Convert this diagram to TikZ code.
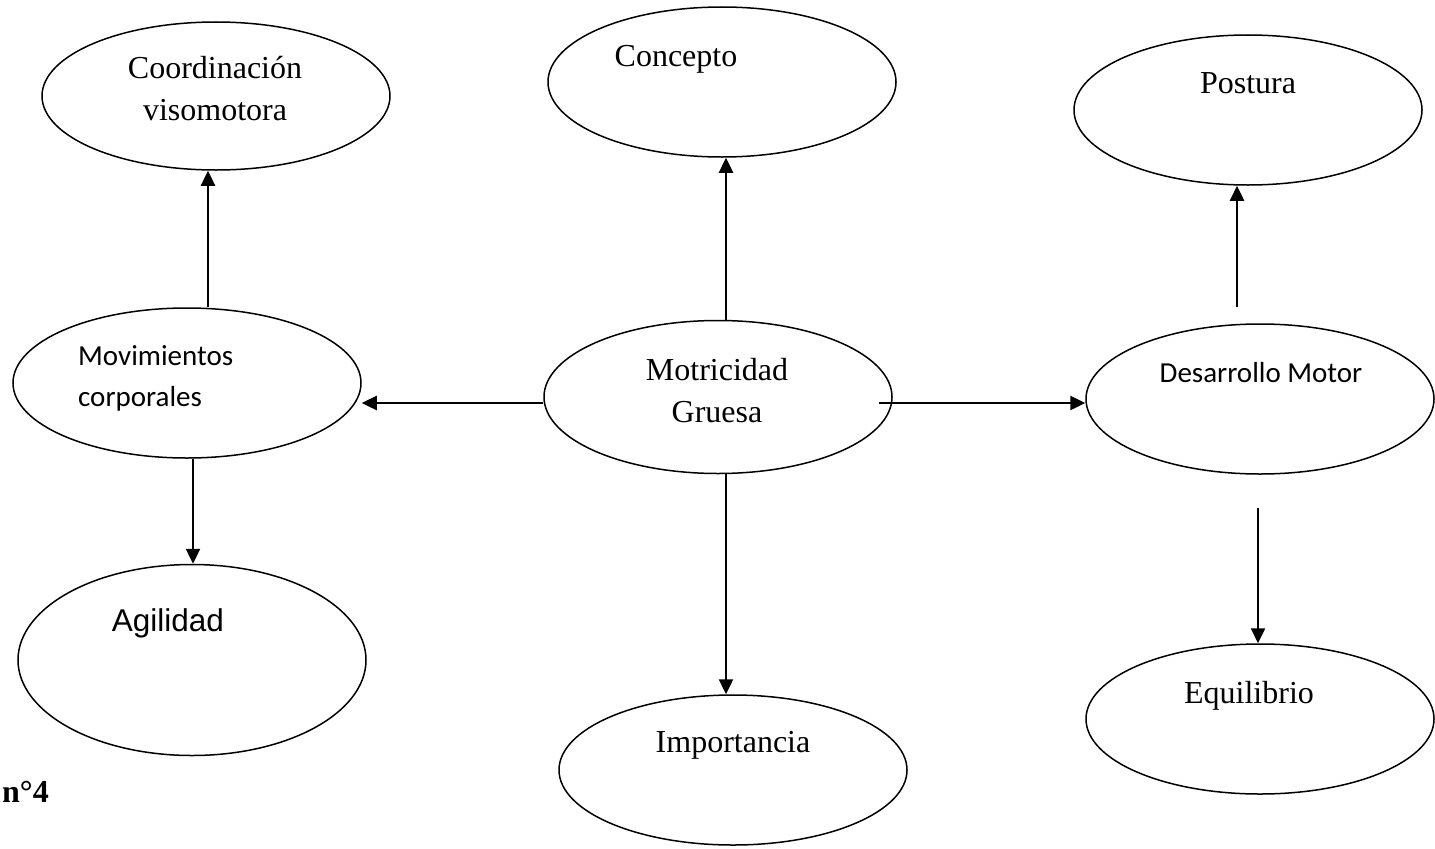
\documentclass[tikz,border=0pt]{standalone}
\usepackage{fontspec}
\setmainfont{Liberation Serif}
\newfontfamily\calibrifont{Carlito}
\newfontfamily\arialfont{Liberation Sans}
\usetikzlibrary{shapes.geometric,arrows.meta}
\begin{document}
\begin{tikzpicture}[x=1bp,y=-1bp,
  oval/.style={draw,ellipse,line width=1.5bp,minimum width=348bp,minimum height=150bp,inner sep=0pt},
  arr/.style={line width=2.4bp,-{Triangle[length=15bp,width=14bp]}},
  serif/.style={font=\fontsize{32bp}{42bp}\selectfont,inner sep=0pt,anchor=base},
  calib/.style={font=\calibrifont\fontsize{29bp}{41bp}\selectfont,inner sep=0pt},
]
\useasboundingbox (0,0) rectangle (1435,848);

% ellipses
\node[oval,minimum height=148bp] (coord) at (216,96) {};
\node[oval] (concepto) at (722,82) {};
\node[oval] (postura) at (1248,110) {};
\node[oval] (movim) at (187,383) {};
\node[oval,minimum height=153bp] (motric) at (718,397) {};
\node[oval] (desarr) at (1260,399) {};
\node[oval,minimum height=191bp] (agil) at (192,660) {};
\node[oval] (import) at (733,770) {};
\node[oval] (equil) at (1260,719) {};

% texts
\node[serif] (coordT) at (215,78) {\begin{tabular}[t]{@{}c@{}}Coordinación\\visomotora\end{tabular}};
\node[serif] (conceptoT) at (676,66) {Concepto};
\node[serif] (posturaT) at (1248,93) {Postura};
\node[calib,anchor=base west] (movimT) at (78,365) {\begin{tabular}[t]{@{}l@{}}Movimientos\\corporales\end{tabular}};
\node[serif] (motricT) at (717,380) {\begin{tabular}[t]{@{}c@{}}Motricidad\\Gruesa\end{tabular}};
\node[calib,anchor=base] (desarrT) at (1261,382) {Desarrollo Motor};
\node[font=\arialfont\fontsize{31.5bp}{40bp}\selectfont,inner sep=0pt,anchor=base] (agilT) at (168,631) {Agilidad};
\node[serif] (importT) at (733,752) {Importancia};
\node[serif] (equilT) at (1249,703) {Equilibrio};
\node[serif,anchor=base west] (fig) at (2,802) {\bfseries n°4};

% connectors
\draw[arr] ([xshift=21bp]movim.north) -- ([xshift=21bp]movim.north |- coord.south);
\draw[arr] ([xshift=8bp]motric.north) -- ([xshift=8bp]motric.north |- concepto.south);
\draw[arr] ([xshift=-23bp,yshift=16bp]desarr.north) -- ([xshift=-23bp]desarr.north |- postura.south);
\draw[arr] ([yshift=-6bp]motric.west) -- ([yshift=-6bp]motric.west -| movim.east);
\draw[arr] ([xshift=-14bp,yshift=-6bp]motric.east) -- ([yshift=-6bp]motric.east -| desarr.west);
\draw[arr] ([xshift=6bp]movim.south) -- ([xshift=6bp]movim.south |- agil.north);
\draw[arr] ([xshift=8bp]motric.south) -- ([xshift=8bp]motric.south |- import.north);
\draw[arr] ([xshift=-2bp,yshift=-33bp]desarr.south) -- ([xshift=-2bp]desarr.south |- equil.north);
\end{tikzpicture}
\end{document}
